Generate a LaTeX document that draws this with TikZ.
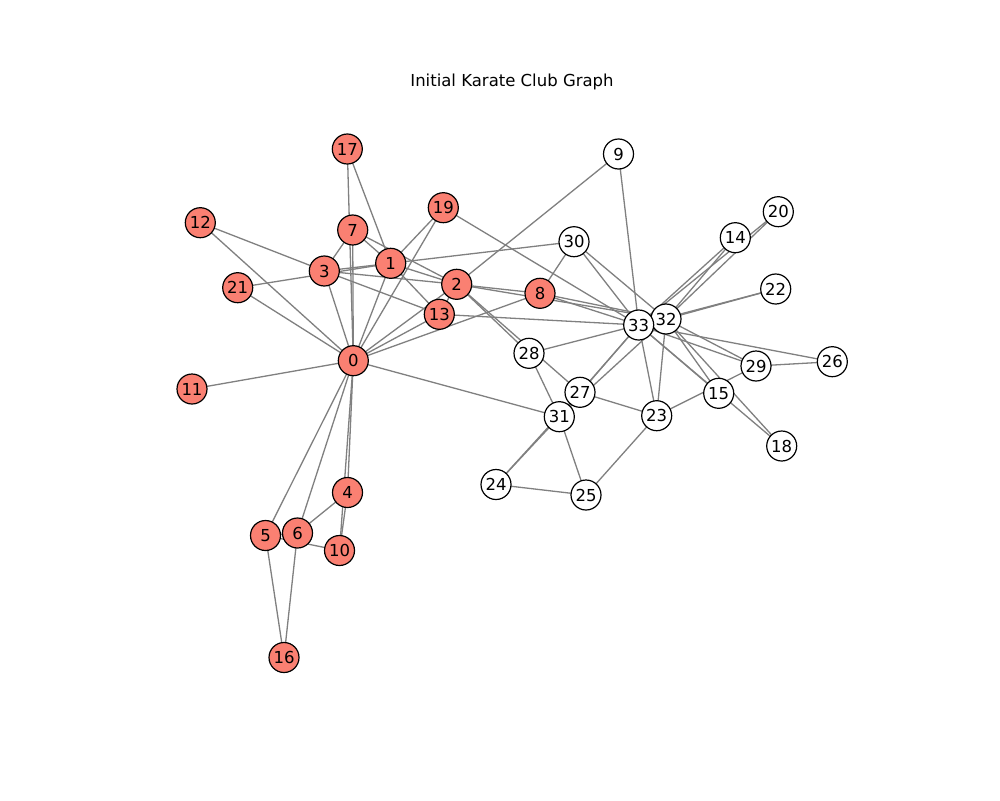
\documentclass[tikz,border=0pt]{standalone}
\usepackage{fontspec}
\setmainfont{DejaVu Sans}
\begin{document}
\begin{tikzpicture}[x=1pt,y=-1pt,
  vtx/.style={circle,draw=black,line width=1.2pt,minimum size=30pt,inner sep=0pt,font=\fontsize{16.5}{18}\selectfont},
  hi/.style={vtx,fill={rgb,255:red,250;green,128;blue,114}},
  of/.style={vtx,fill=white},
  edge/.style={draw={rgb,255:red,128;green,128;blue,128},line width=1.3pt}]
\useasboundingbox[fill=white] (0,0) rectangle (1000,800);
\node[font=\fontsize{16.5}{18}\selectfont] (title) at (512,82) {Initial Karate Club Graph};
% coordinates
\foreach \n/\x/\y in {0/353.3/360.7,1/390.7/263.3,2/456.7/284.3,3/324.3/271,4/347.5/492.5,5/265.5/535.5,6/297.5/533,7/352.7/230,8/540/293.3,9/618.5/154,10/339.5/550.5,11/192/389,12/200.3/222.7,13/439.3/314.3,14/735.3/237.7,15/718.7/393.3,16/284/657.5,17/347.3/149,18/781.7/446,19/443.3/207.7,20/778.3/211.7,21/237.7/287.7,22/775.7/289,23/656.7/415.7,24/496/484.5,25/586/495,26/832.3/361.7,27/580/392.3,28/529/353.3,29/756/366,30/574/241.7,31/559.3/416.7,32/666/319,33/638.7/325}
  \coordinate (c\n) at (\x,\y);
% edges
\foreach \a/\b in {0/1,0/2,0/3,0/4,0/5,0/6,0/7,0/8,0/10,0/11,0/12,0/13,0/17,0/19,0/21,0/31,
  1/2,1/3,1/7,1/13,1/17,1/19,1/21,1/30,
  2/3,2/7,2/8,2/9,2/13,2/27,2/28,2/32,
  3/7,3/12,3/13,4/6,4/10,5/6,5/10,5/16,6/16,
  8/30,8/32,8/33,9/33,13/33,14/32,14/33,15/32,15/33,18/32,18/33,19/33,20/32,20/33,22/32,22/33,
  23/25,23/27,23/29,23/32,23/33,24/25,24/27,24/31,25/31,26/29,26/33,27/33,28/31,28/33,
  29/32,29/33,30/32,30/33,31/32,31/33,32/33}
  \draw[edge] (c\a) -- (c\b);
% nodes
\foreach \n in {0,1,2,3,4,5,6,7,8,10,11,12,13,16,17,19,21}
  \node[hi] (n\n) at (c\n) {\n};
\foreach \n in {9,14,15,18,20,22,23,24,25,26,27,28,29,30,31,32,33}
  \node[of] (n\n) at (c\n) {\n};
\end{tikzpicture}
\end{document}
